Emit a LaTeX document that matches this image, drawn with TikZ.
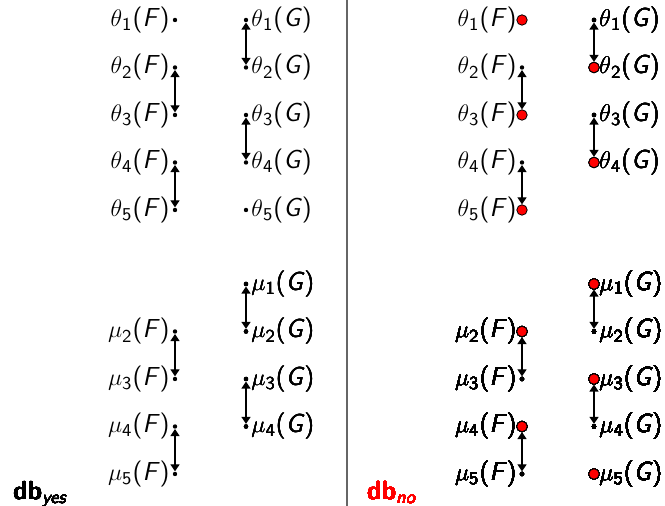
\documentclass[tikz,border=0pt]{standalone}
\usepackage{amsmath}
\usepackage{xcolor}
\usepackage{tikz}
\usetikzlibrary{arrows.meta}
\tikzset{
  sdot/.style={circle,fill=black,inner sep=0pt,minimum size=2.2pt},
  rdot/.style={circle,draw=black,line width=0.4pt,fill=red,inner sep=0pt,minimum size=5.2pt},
  lblF/.style={anchor=east,inner sep=2.5pt},
  lblG/.style={anchor=west,inner sep=2.5pt},
  link/.style={<->,semithick}
}
% label text: greek letter, index, F or G
\newcommand{\lbl}[3]{$#1$\textsubscript{#2}(\textit{#3})}
\newcommand{\ptF}[4]{\node[#3] (#1) at #2 {}; \node[lblF] (l#1) at (#1.center) {#4};}
\newcommand{\ptG}[4]{\node[#3] (#1) at #2 {}; \node[lblG] (l#1) at (#1.center) {#4};}

\begin{document}
\begin{tikzpicture}[x=0.5pt,y=-0.5pt,>={Triangle[length=3.5pt,width=4.5pt]},font=\sffamily\fontsize{13}{15}\selectfont]
\useasboundingbox (0,0) rectangle (665,506);
\draw[black!60,line width=1pt] (347,0)--(347,506);
% db_yes
\foreach \i in {1,...,5}{
  \ptF{ytF\i}{(175,{20+47.5*(\i-1)})}{sdot}{\lbl{\theta}{\i}{F}}
  \ptG{ytG\i}{(246,{20+47.5*(\i-1)})}{sdot}{\lbl{\theta}{\i}{G}}
}
\foreach \i in {2,...,5}
  \ptF{ymF\i}{(175,{284+47.5*(\i-1)})}{sdot}{\lbl{\mu}{\i}{F}}
\foreach \i in {1,...,4}
  \ptG{ymG\i}{(246,{284+47.5*(\i-1)})}{sdot}{\lbl{\mu}{\i}{G}}
\node[anchor=base west] (dbyes) at (6,500) {\bfseries db\textsubscript{\mdseries\itshape yes}};
% db_no
\foreach \i/\st in {1/rdot,2/sdot,3/rdot,4/sdot,5/rdot}
  \ptF{ntF\i}{(522,{20+47.5*(\i-1)})}{\st}{\lbl{\theta}{\i}{F}}
\foreach \i/\st in {1/sdot,2/rdot,3/sdot,4/rdot}
  \ptG{ntG\i}{(594,{20+47.5*(\i-1)})}{\st}{\lbl{\theta}{\i}{G}}
\foreach \i/\st in {2/rdot,3/sdot,4/rdot,5/sdot}
  \ptF{nmF\i}{(522,{284+47.5*(\i-1)})}{\st}{\lbl{\mu}{\i}{F}}
\foreach \i/\st in {1/rdot,2/sdot,3/rdot,4/sdot,5/rdot}
  \ptG{nmG\i}{(594,{284+47.5*(\i-1)})}{\st}{\lbl{\mu}{\i}{G}}
\node[anchor=base west,text=red] (dbno) at (360,500) {\bfseries db\textsubscript{\mdseries\itshape no}};
% links
\foreach \p in {y,n}{
  \draw[link] (\p tF2)--(\p tF3);
  \draw[link] (\p tF4)--(\p tF5);
  \draw[link] (\p tG1)--(\p tG2);
  \draw[link] (\p tG3)--(\p tG4);
  \draw[link] (\p mF2)--(\p mF3);
  \draw[link] (\p mF4)--(\p mF5);
  \draw[link] (\p mG1)--(\p mG2);
  \draw[link] (\p mG3)--(\p mG4);
}
\end{tikzpicture}
\end{document}
